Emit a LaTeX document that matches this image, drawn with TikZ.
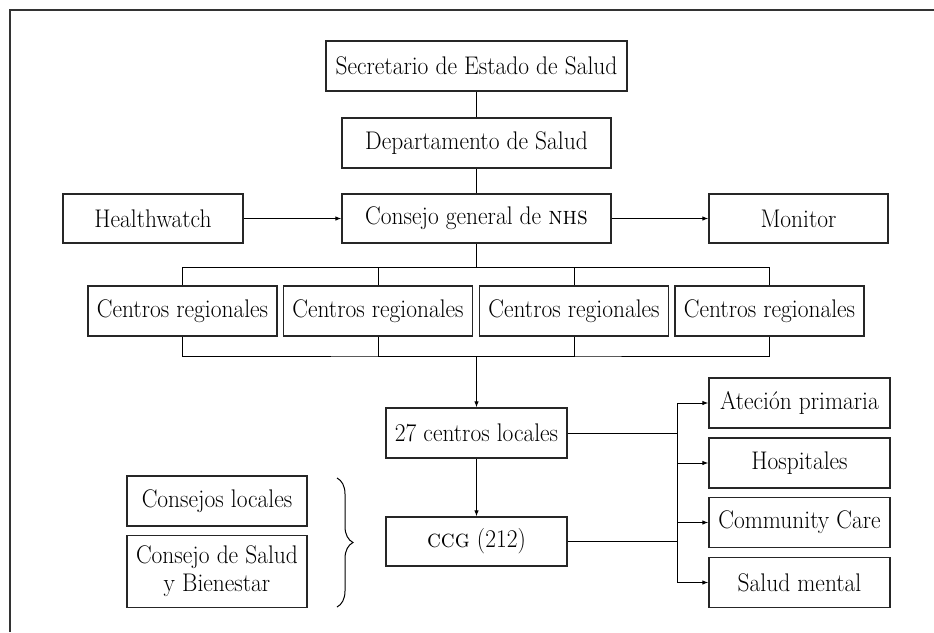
\documentclass[tikz,border=0pt]{standalone}
\usepackage{fontspec}
\usepackage{graphicx}
\usetikzlibrary{arrows.meta,decorations.pathreplacing}
\newcommand{\sx}[1]{\scalebox{0.92}[1]{#1}}
\begin{document}
\begin{tikzpicture}[x=1pt,y=-1pt,
  box/.style={draw=black!85,line width=1.3pt,inner sep=0pt,minimum height=50pt,
    font=\fontsize{25.5}{27.7}\selectfont,align=center},
  conn/.style={draw=black,line width=1pt},
  arr/.style={conn,-{Latex[length=6pt,width=4.5pt]}},
  frame/.style={draw=black!80,line width=1.6pt}]
\useasboundingbox (0,0) rectangle (934,632);
% frame (top and left edges)
\coordinate (fa) at (10,632);
\coordinate (fb) at (10,10);
\coordinate (fc) at (934,10);
\draw[frame] (fa) -- (fb) -- (fc);
% top chain
\node[box,minimum width=301pt] (sec) at (476.5,66) {\sx{Secretario de Estado de Salud}};
\node[box,minimum width=269pt] (dep) at (476.5,143) {\sx{Departamento de Salud}};
\node[box,minimum width=269pt,minimum height=49pt] (cg) at (476.5,218.5) {\sx{Consejo general de \textsc{nhs}}};
\node[box,minimum width=180pt,minimum height=49pt] (hw) at (153,218.5) {\sx{Healthwatch}};
\node[box,minimum width=179pt,minimum height=49pt] (mon) at (798.5,218.5) {\sx{Monitor}};
\draw[conn] (sec) -- (dep);
\draw[conn] (dep) -- (cg);
\draw[arr] (hw) -- (cg);
\draw[arr] (cg) -- (mon);
% regional
\node[box,minimum width=189pt] (r1) at (182.5,311) {\sx{Centros regionales}};
\node[box,minimum width=189pt] (r2) at (378,311) {\sx{Centros regionales}};
\node[box,minimum width=189pt] (r3) at (574,311) {\sx{Centros regionales}};
\node[box,minimum width=189pt] (r4) at (769.5,311) {\sx{Centros regionales}};
\coordinate (bt) at (476.5,267.5);
\coordinate (bb) at (476.5,356);
\draw[conn] (cg.south) -- (bt);
\draw[conn] (r1.north) |- (bt) -| (r4.north);
\draw[conn] (r2.north) |- (bt);
\draw[conn] (r3.north) |- (bt);
\draw[conn] (r1.south) |- (bb) -| (r4.south);
\draw[conn] (r2.south) |- (bb);
\draw[conn] (r3.south) |- (bb);
% local
\node[box,minimum width=181pt] (loc) at (476.5,433) {\sx{27 centros locales}};
\node[box,minimum width=181pt,minimum height=49pt] (ccg) at (476.5,541.5) {\sx{\textsc{ccg} (212)}};
\draw[arr] (bb) -- (loc.north);
\draw[arr] (loc) -- (ccg);
% right services
\node[box,minimum width=181pt] (ap) at (799.5,403) {\sx{Ateción primaria}};
\node[box,minimum width=181pt] (ho) at (799.5,463) {\sx{Hospitales}};
\node[box,minimum width=181pt] (cc) at (799.5,522.5) {\sx{Community Care}};
\node[box,minimum width=181pt] (sm) at (799.5,582.5) {\sx{Salud mental}};
\coordinate (ra) at (677,433);
\coordinate (rb) at (677,541.5);
\coordinate (rt) at (677,403);
\coordinate (rs) at (677,582.5);
\draw[conn] (loc.east) -- (ra);
\draw[conn] (ccg.east) -- (rb);
\draw[conn] (rt) -- (rs);
\draw[arr] (rt) -- (ap.west);
\draw[arr] (677,463) -- (ho.west);
\draw[arr] (677,522.5) -- (cc.west);
\draw[arr] (rs) -- (sm.west);
% left councils
\node[box,minimum width=180pt] (cl) at (217,501) {\sx{Consejos locales}};
\node[box,minimum width=180pt,minimum height=72pt] (csb) at (217,571.5) {\sx{Consejo de Salud}\\\sx{y Bienestar}};
\coordinate (b1) at (337,478);
\coordinate (b2) at (337,607);
\draw[conn,decorate,decoration={brace,amplitude=16pt,raise=0pt}] (b1) -- (b2);
\end{tikzpicture}
\end{document}
